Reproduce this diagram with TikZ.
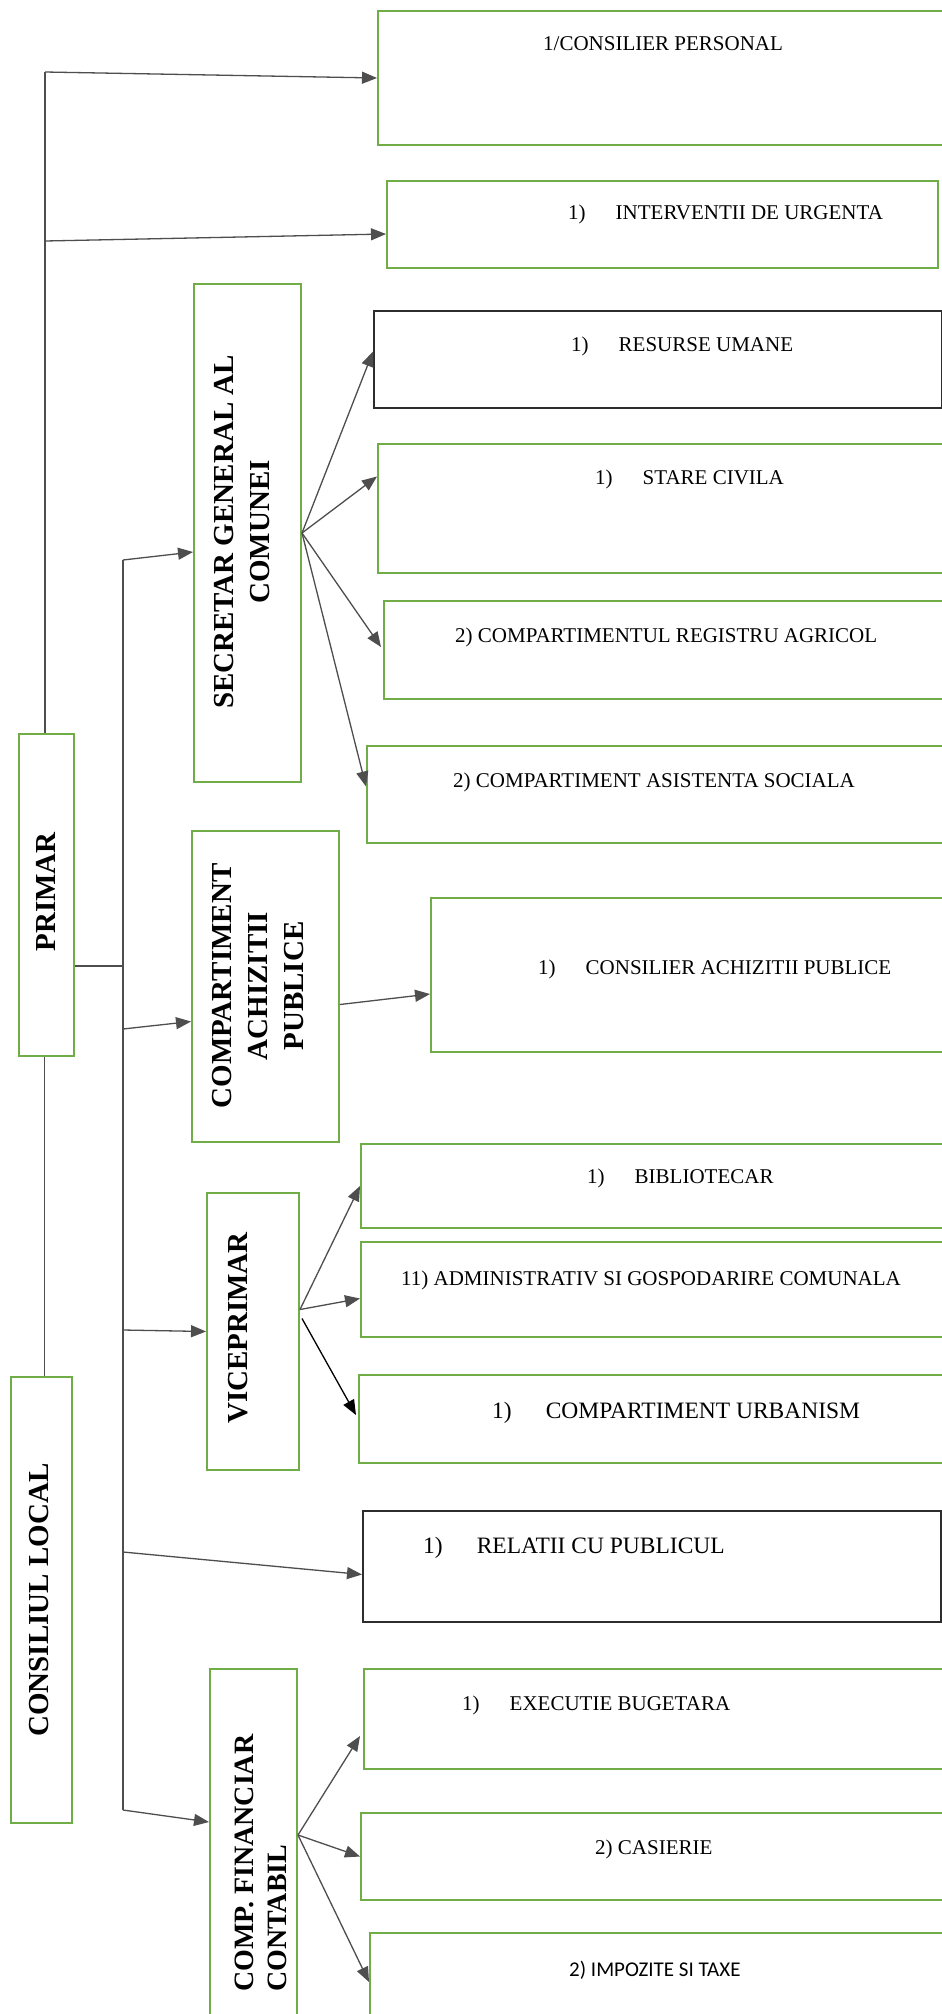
\documentclass[tikz,border=0pt]{standalone}
\usepackage{fontspec}
\setmainfont{Liberation Serif}
\newfontfamily\carlito{Carlito}
\usetikzlibrary{arrows.meta}
\definecolor{boxgreen}{RGB}{112,173,71}
\definecolor{linegray}{RGB}{78,78,78}
\definecolor{boxblack}{RGB}{45,45,45}
\begin{document}
\begin{tikzpicture}[x=1pt,y=-1pt,
  gbox/.style={draw=boxgreen,line width=2pt,rectangle,inner sep=0pt,anchor=north west},
  kbox/.style={draw=boxblack,line width=2pt,rectangle,inner sep=0pt,anchor=north west},
  conn/.style={draw=linegray,line width=1.3pt},
  arr/.style={conn,-{Triangle[length=15pt,width=12pt]}},
  barr/.style={draw=black,line width=1.3pt,-{Triangle[length=15pt,width=12pt]}},
  txt/.style={anchor=base west,inner sep=0pt,font=\fontsize{21}{25}\selectfont},
  btxt/.style={anchor=base west,inner sep=0pt,font=\fontsize{23.5}{28}\selectfont},
  vtxt/.style={rotate=90,inner sep=0pt,align=center,font=\fontsize{29}{36}\selectfont\bfseries}
]
\useasboundingbox (0,0) rectangle (942,2014);
\fill[white] (0,0) rectangle (942,2014);
\clip (0,0) rectangle (942,2014);

% ---- boxes ----
\node[gbox,minimum width=583pt,minimum height=134pt] (cons1) at (377,10) {};
\node[gbox,minimum width=551pt,minimum height=87pt] (interv) at (386,180) {};
\node[kbox,minimum width=568pt,minimum height=97pt] (resurse) at (373,310) {};
\node[gbox,minimum width=583pt,minimum height=129pt] (stare) at (377,443) {};
\node[gbox,minimum width=577pt,minimum height=98pt] (registru) at (383,600) {};
\node[gbox,minimum width=594pt,minimum height=97pt] (asist) at (366,745) {};
\node[gbox,minimum width=107pt,minimum height=498pt] (secretar) at (193,283) {};
\node[gbox,minimum width=147pt,minimum height=311pt] (achiz) at (191,830) {};
\node[gbox,minimum width=530pt,minimum height=154pt] (consach) at (430,897) {};
\node[gbox,minimum width=600pt,minimum height=84pt] (biblio) at (360,1143) {};
\node[gbox,minimum width=600pt,minimum height=95pt] (admin) at (360,1241) {};
\node[gbox,minimum width=92pt,minimum height=277pt] (vice) at (206,1192) {};
\node[gbox,minimum width=602pt,minimum height=88pt] (urban) at (358,1374) {};
\node[kbox,minimum width=578pt,minimum height=111pt] (relatii) at (362,1510) {};
\node[gbox,minimum width=61pt,minimum height=446pt] (conslocal) at (10,1376) {};
\node[gbox,minimum width=55pt,minimum height=322pt] (primar) at (18,733) {};
\node[gbox,minimum width=87pt,minimum height=372pt] (compfin) at (209,1668) {};
\node[gbox,minimum width=597pt,minimum height=100pt] (exec) at (363,1668) {};
\node[gbox,minimum width=600pt,minimum height=87pt] (casierie) at (360,1812) {};
\node[gbox,minimum width=591pt,minimum height=108pt] (impozite) at (369,1932) {};

% ---- texts in right boxes ----
\node[txt] (tcons1) at (543,50) {1/CONSILIER PERSONAL};
\node[txt] (tinterv) at (568,219) {1)\hspace{30pt}INTERVENTII DE URGENTA};
\node[txt] (tresurse) at (571,351) {1)\hspace{30pt}RESURSE UMANE};
\node[txt] (tstare) at (595,484) {1)\hspace{30pt}STARE CIVILA};
\node[txt] (tregistru) at (455,642) {2) COMPARTIMENTUL REGISTRU AGRICOL};
\node[txt] (tasist) at (453,787) {2) COMPARTIMENT ASISTENTA SOCIALA};
\node[txt] (tconsach) at (538,974) {1)\hspace{30pt}CONSILIER ACHIZITII PUBLICE};
\node[txt] (tbiblio) at (587,1183) {1)\hspace{30pt}BIBLIOTECAR};
\node[txt] (tadmin) at (401,1285) {11) ADMINISTRATIV SI GOSPODARIRE COMUNALA};
\node[btxt] (turban) at (492,1418) {1)\hspace{34pt}COMPARTIMENT URBANISM};
\node[btxt] (trelatii) at (423,1553) {1)\hspace{34pt}RELATII CU PUBLICUL};
\node[txt] (texec) at (462,1710) {1)\hspace{30pt}EXECUTIE BUGETARA};
\node[txt] (tcasierie) at (595,1854) {2) CASIERIE};
\node[txt,font=\fontsize{21}{25}\selectfont\carlito] (timpozite) at (569,1976) {2) IMPOZITE SI TAXE};

% ---- vertical texts ----
\node[vtxt] (tprimar) at (46,892) {PRIMAR};
\node[vtxt] (tconslocal) at (39,1600) {CONSILIUL LOCAL};
\node[vtxt] (tsecretar) at (242,532) {SECRETAR GENERAL AL\\COMUNEI};
\node[vtxt] (tachiz) at (258,986) {COMPARTIMENT\\ACHIZITII\\PUBLICE};
\node[vtxt] (tvice) at (238,1328) {VICEPRIMAR};
\node[vtxt,align=left,anchor=west,font=\fontsize{28}{33}\selectfont\bfseries] (tcompfin) at (261,1992) {COMP. FINANCIAR\\CONTABIL};

% ---- trunk coordinates ----
\coordinate (t1top) at (45,72);
\coordinate (t1b) at (45,241);
\coordinate (t2top) at (123,560);
\coordinate (t2m) at (123,966);
\coordinate (t2ach) at (123,1029);
\coordinate (t2vice) at (123,1330);
\coordinate (t2rel) at (123,1552);
\coordinate (t2bot) at (123,1810);

% ---- connectors ----
\draw[conn] (primar.north -| t1top) -- (t1top);
\draw[arr] (t1top) -- (cons1.west);
\draw[arr] (t1b) -- ([yshift=-9.5pt]interv.west);
\draw[conn] ([xshift=-2pt]primar.south) -- ([xshift=-2pt]primar.south |- conslocal.north);
\draw[conn] ([yshift=-71pt]primar.east) -- (t2m);
\draw[conn] (t2top) -- (t2bot);
\draw[arr] (t2top) -- ([yshift=-19pt]secretar.west);
\draw[arr] (t2ach) -- ([yshift=-35pt]achiz.west);
\draw[arr] (t2vice) -- (vice.west);
\draw[arr] (t2rel) -- ([yshift=-8pt]relatii.west);
\draw[arr] (t2bot) -- ([yshift=-154pt]compfin.north west);

\draw[arr] (secretar.east) -- ([yshift=8pt]resurse.west);
\draw[arr] (secretar.east) -- ([yshift=32pt]stare.west);
\draw[arr] (secretar.east) -- ([xshift=-2pt,yshift=3pt]registru.west);
\draw[arr] (secretar.east) -- ([yshift=8pt]asist.west);

\draw[arr] ([yshift=-18pt]achiz.east) -- ([yshift=-19pt]consach.west);

\draw[arr] ([yshift=22pt]vice.east) -- (biblio.west);
\draw[arr] ([yshift=22pt]vice.east) -- ([yshift=-9pt]admin.west);
\draw[barr] ([xshift=2pt,yshift=13pt]vice.east) -- ([xshift=-2pt,yshift=4pt]urban.west);

\draw[arr] ([yshift=-167pt]compfin.north east) -- ([xshift=-3pt,yshift=-17pt]exec.west);
\draw[arr] ([yshift=-167pt]compfin.north east) -- (casierie.west);
\draw[arr] ([yshift=-167pt]compfin.north east) -- ([yshift=-50pt]impozite.north west);
\end{tikzpicture}
\end{document}
